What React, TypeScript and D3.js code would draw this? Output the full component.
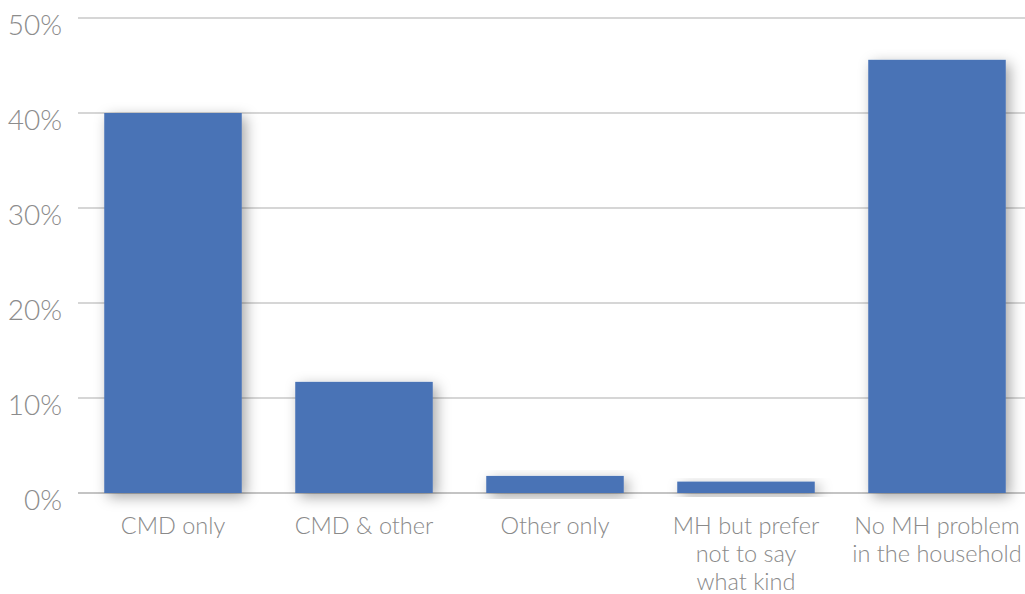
import React from "react";
import * as d3 from "d3";

const categories: string[][] = [
  ["CMD only"],
  ["CMD & other"],
  ["Other only"],
  ["MH but prefer", "not to say", "what kind"],
  ["No MH problem", "in the household"],
];
const values: number[] = [40.0, 11.7, 1.8, 1.2, 45.6];
const yTicks: number[] = [0, 10, 20, 30, 40, 50];

const W = 1025;
const H = 594;

export default function App() {
  const x = d3
    .scaleBand<number>()
    .domain(values.map((_, i) => i))
    .range([77.5, 1032.5])
    .paddingInner(0.28)
    .paddingOuter(0.14);
  const y = d3.scaleLinear().domain([0, 50]).range([493, 18]);
  const font = "Lato, 'Open Sans', sans-serif";
  return (
    <svg
      width={W}
      height={H}
      style={{ position: "absolute", left: 0, top: 0, background: "#fff" }}
    >
      <defs>
        <filter id="sh" x="-30%" y="-30%" width="160%" height="160%">
          <feDropShadow dx="4" dy="4" stdDeviation="7" floodColor="#000" floodOpacity="0.35" />
        </filter>
      </defs>
      {yTicks.map((t) => (
        <g key={t}>
          <line
            x1={78}
            x2={W}
            y1={y(t)}
            y2={y(t)}
            stroke={t === 0 ? "#c4c4c4" : "#d6d6d6"}
            strokeWidth={2}
          />
          <text
            x={62}
            y={y(t) + 17}
            textAnchor="end"
            fontFamily={font}
            fontWeight={300}
            fontSize={28}
            fill="#8c8c8c"
          >
            {t}%
          </text>
        </g>
      ))}
      {values.map((v, i) => (
        <rect
          key={i}
          x={x(i)}
          width={x.bandwidth()}
          y={y(v)}
          height={y(0) - y(v)}
          fill="#4873b6"
          filter="url(#sh)"
        />
      ))}
      {categories.map((lines, i) => (
        <text
          key={i}
          x={(x(i) as number) + x.bandwidth() / 2}
          textAnchor="middle"
          fontFamily={font}
          fontWeight={300}
          fontSize={23.5}
          fill="#8a8a8a"
        >
          {lines.map((l, j) => (
            <tspan key={j} x={(x(i) as number) + x.bandwidth() / 2} y={534 + j * 28}>
              {l}
            </tspan>
          ))}
        </text>
      ))}
    </svg>
  );
}
